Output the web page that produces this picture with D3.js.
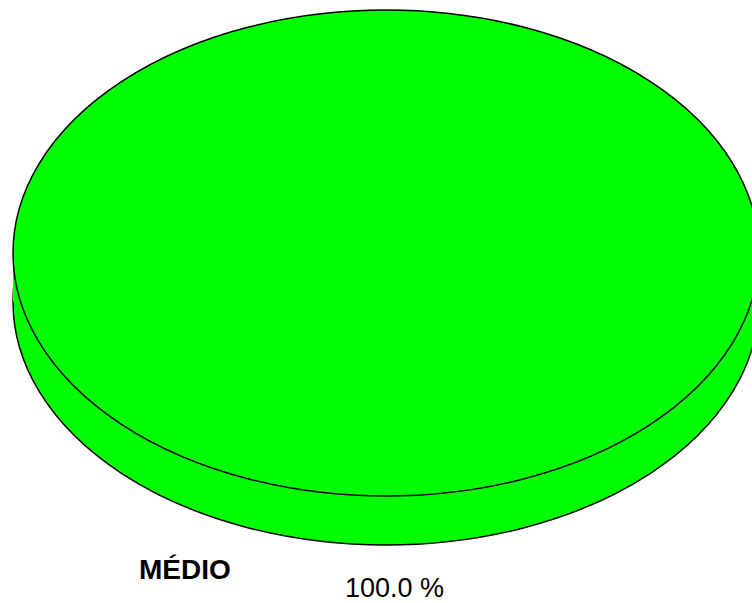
<!DOCTYPE html>
<html>
<head>
<meta charset="utf-8">
<script src="https://cdn.jsdelivr.net/npm/d3@7"></script>
<style>
  body { margin: 0; background: #fff; overflow: hidden; }
  svg { display: block; }
</style>
</head>
<body>
<div id="chart"></div>
<script>
// data
const categories = ['MÉDIO'];
const values = [100];
const colors = ['#00ff00'];

const width = 752, height = 603;
const cx = 386, cy = 253, rx = 373, ry = 243, depth = 49;

const svg = d3.select('#chart').append('svg')
    .attr('width', width)
    .attr('height', height);

const pie = d3.pie().sort(null).value(d => d)(values);

// elliptical slice path (d3.arc at unit radius, then scaled with non-scaling stroke)
const arc = d3.arc().innerRadius(0).outerRadius(1);

function layer(offset) {
    return svg.append('g')
        .attr('transform', `translate(${cx},${cy + offset}) scale(${rx},${ry})`);
}

// bottom (side) layer
layer(depth).selectAll('path')
    .data(pie)
    .join('path')
    .attr('d', arc)
    .attr('fill', (d, i) => colors[i])
    .attr('stroke', '#000')
    .attr('stroke-width', 1.5)
    .attr('vector-effect', 'non-scaling-stroke');

// fill between layers
svg.append('rect')
    .attr('x', cx - rx)
    .attr('y', cy)
    .attr('width', rx * 2)
    .attr('height', depth)
    .attr('fill', colors[0]);

// top layer
layer(0).selectAll('path')
    .data(pie)
    .join('path')
    .attr('d', arc)
    .attr('fill', (d, i) => colors[i])
    .attr('stroke', '#000')
    .attr('stroke-width', 1.5)
    .attr('vector-effect', 'non-scaling-stroke');

// labels
svg.append('text')
    .attr('x', 139)
    .attr('y', 579)
    .attr('font-family', 'Liberation Sans, Arial, sans-serif')
    .attr('font-weight', 'bold')
    .attr('font-size', 28)
    .attr('fill', '#000')
    .text(categories[0]);

svg.append('text')
    .attr('x', 345)
    .attr('y', 597)
    .attr('font-family', 'Liberation Sans, Arial, sans-serif')
    .attr('font-size', 27)
    .attr('fill', '#000')
    .text(d3.format('.1f')(values[0]) + ' %');
</script>
</body>
</html>
